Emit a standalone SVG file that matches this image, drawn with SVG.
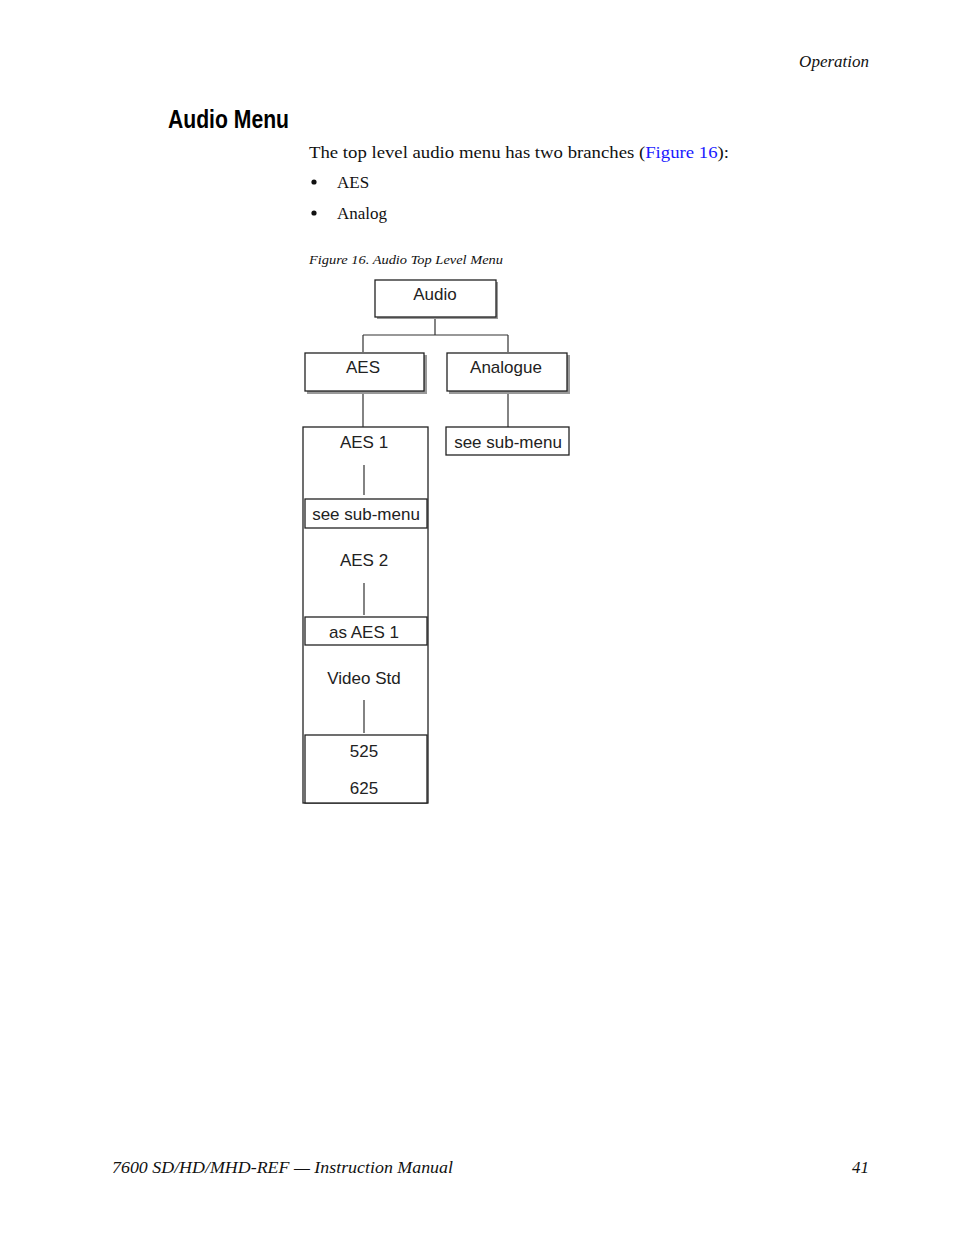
<svg xmlns="http://www.w3.org/2000/svg" width="954" height="1235" viewBox="0 0 954 1235">
<style>
.pg{font-family:"Liberation Serif",serif;fill:#111}
.it{font-style:italic}
.box{fill:#fff;stroke:#222;stroke-width:1.3}
.sh{fill:#999}
.t{font-family:"Liberation Sans",Arial,sans-serif;font-size:17px;fill:#222;text-anchor:middle}
.ln{stroke:#333;stroke-width:1.2;fill:none}
</style>
<rect width="954" height="1235" fill="#fff"/>
<text class="pg it" x="869" y="67" font-size="17" text-anchor="end">Operation</text>
<text x="168" y="128" font-family="Liberation Sans,sans-serif" font-weight="bold" font-size="25" textLength="121" lengthAdjust="spacingAndGlyphs" fill="#000">Audio Menu</text>
<text class="pg" x="309" y="158" font-size="17" textLength="420" lengthAdjust="spacingAndGlyphs">The top level audio menu has two branches (<tspan fill="#1a1aff">Figure 16</tspan>):</text>
<circle cx="314" cy="182" r="2.6" fill="#111"/>
<text class="pg" x="337" y="188" font-size="17">AES</text>
<circle cx="314" cy="213" r="2.6" fill="#111"/>
<text class="pg" x="337" y="219" font-size="17">Analog</text>
<text class="pg it" x="309" y="264" font-size="13" textLength="194" lengthAdjust="spacingAndGlyphs">Figure 16.  Audio Top Level Menu</text>

<g id="aes-container">
<rect class="box" x="303" y="427" width="125" height="376" stroke-width="1.6"/>
</g>

<g id="connectors">
<path class="ln" d="M435,317V335M363,335H508M363,335V352M508,335V352"/>
<path class="ln" d="M363,391V427M508,391V427"/>
<path class="ln" d="M364,465V495M364,583V615M364,700V733"/>
</g>

<g id="audio">
<rect class="sh" x="377" y="282" width="121" height="37"/>
<rect class="box" x="375" y="280" width="121" height="37"/>
<text class="t" x="435" y="300">Audio</text>
</g>
<g id="aes">
<rect class="sh" x="307" y="355" width="120" height="39"/>
<rect class="box" x="305" y="353" width="119" height="38"/>
<text class="t" x="363" y="373">AES</text>
</g>
<g id="analogue">
<rect class="sh" x="449" y="355" width="121" height="39"/>
<rect class="box" x="447" y="353" width="120" height="38"/>
<text class="t" x="506" y="373">Analogue</text>
</g>
<g id="analogue-sub">
<rect class="box" x="446" y="427" width="123" height="28"/>
<text class="t" x="508" y="448">see sub-menu</text>
</g>
<g id="aes1">
<text class="t" x="364" y="448">AES 1</text>
</g>
<g id="aes1-sub">
<rect class="box" x="305" y="499" width="122" height="29"/>
<text class="t" x="366" y="520">see sub-menu</text>
</g>
<g id="aes2">
<text class="t" x="364" y="566">AES 2</text>
</g>
<g id="aes2-sub">
<rect class="box" x="305" y="617" width="122" height="28"/>
<text class="t" x="364" y="638">as AES 1</text>
</g>
<g id="videostd">
<text class="t" x="364" y="684">Video Std</text>
</g>
<g id="videostd-sub">
<rect class="box" x="305" y="735" width="122" height="68"/>
<text class="t" x="364" y="757">525</text>
<text class="t" x="364" y="794">625</text>
</g>

<text class="pg it" x="112" y="1173" font-size="17" textLength="341" lengthAdjust="spacingAndGlyphs">7600 SD/HD/MHD-REF — Instruction Manual</text>
<text class="pg it" x="869" y="1173" font-size="17" text-anchor="end">41</text>
</svg>
